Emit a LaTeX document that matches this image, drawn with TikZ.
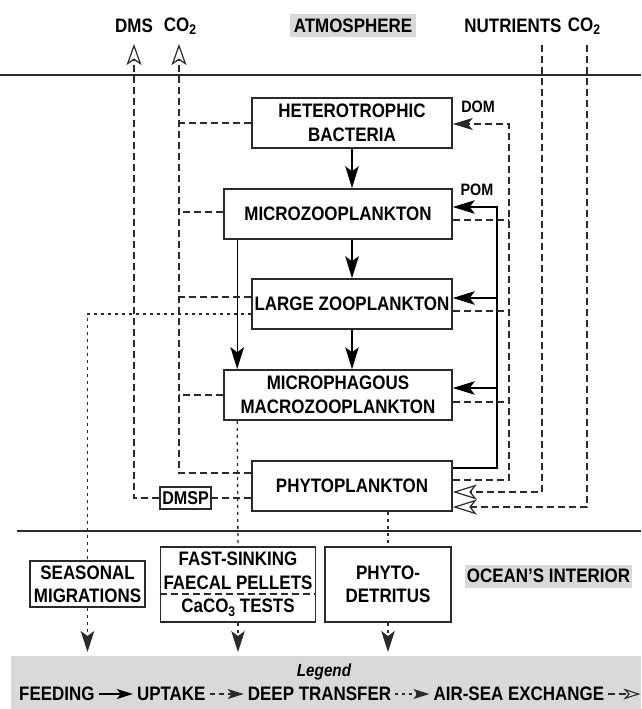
\documentclass[tikz,border=0pt]{standalone}
\usepackage{fontspec}
\setmainfont{Liberation Sans}[FakeStretch=0.87]
\usetikzlibrary{arrows.meta,positioning}
\newcommand\lowsub[1]{\raisebox{-0.35ex}{\fontsize{14}{14}\selectfont #1}}
\definecolor{lbl}{HTML}{D9D9D9}
\definecolor{ln}{HTML}{2A2A2A}
\begin{document}
\begin{tikzpicture}[x=1pt,y=-1pt,
  every node/.style={font=\bfseries\fontsize{19.5}{24}\selectfont, inner sep=0pt, align=center},
  box/.style={draw=ln, line width=1.6pt, fill=white},
  tag/.style={fill=lbl, inner sep=0pt},
  small/.style={font=\bfseries\fontsize{16.5}{18}\selectfont},
  feed/.style={line width=1.4pt, draw=black},
  feedtip/.style={-{Stealth[length=22pt,width=13.5pt,inset=5pt]}},
  uptake/.style={line width=1.3pt, draw=ln, dash pattern=on 7pt off 4pt},
  uptip/.style={-{Stealth[length=20pt,width=12pt,inset=5pt]}},
  deep/.style={line width=1.3pt, draw=ln, dash pattern=on 3pt off 4pt},
  deeptip/.style={-{Stealth[length=21pt,width=13.5pt,inset=5pt]}},
  airtip/.style={-{Stealth[open,length=24pt,width=15pt,inset=6pt,line width=1.2pt]}},
  airtiptop/.style={-{Stealth[open,length=21pt,width=15pt,inset=5pt,line width=1.2pt]}},
]
\useasboundingbox (0,0) rectangle (641,709);

% surface and interior boundaries
\draw[line width=1.8pt, ln] (0,75) -- (641,75);
\draw[line width=1.8pt, ln] (17,531) -- (641,531);

% top labels
\node[tag, minimum width=126pt, minimum height=23pt] (atm) at (353,26) {ATMOSPHERE};
\node (dms) at (134,26) {DMS};
\node (co2a) at (180,26) {CO\lowsub{2}};
\node (nut) at (513,26) {NUTRIENTS};
\node (co2b) at (584,26) {CO\lowsub{2}};

% food web boxes
\node[box, minimum width=200pt, minimum height=50pt] (het) at (352,123) {HETEROTROPHIC\\BACTERIA};
\node[box, minimum width=228pt, minimum height=50pt] (micro) at (338,214) {MICROZOOPLANKTON};
\node[box, minimum width=200pt, minimum height=50pt] (large) at (352,304) {LARGE ZOOPLANKTON};
\node[box, minimum width=228pt, minimum height=50pt] (macro) at (338,395) {MICROPHAGOUS\\MACROZOOPLANKTON};
\node[box, minimum width=200pt, minimum height=50pt] (phyto) at (352,486) {PHYTOPLANKTON};
\node[box, line width=1.3pt, minimum width=51pt, minimum height=22pt, font=\bfseries\fontsize{18.5}{20}\selectfont] (dmsp) at (185.5,498) {DMSP};

\node[small] (dom) at (478,107) {DOM};
\node[small] (pom) at (477,190) {POM};

% interior boxes
\node[box, minimum width=115pt, minimum height=46pt, font=\bfseries\fontsize{19.5}{23}\selectfont] (seas) at (87.5,584) {SEASONAL\\MIGRATIONS};
\node[box, minimum width=155pt, minimum height=75pt, font=\bfseries\fontsize{19.5}{23.5}\selectfont] (fast) at (238,584.5) {FAST-SINKING\\FAECAL PELLETS\\CaCO\lowsub{3} TESTS};
\draw[uptake, line width=1.2pt] ([yshift=-9.5pt]fast.west) -- ([yshift=-9.5pt]fast.east);
\node[box, minimum width=126pt, minimum height=75pt, font=\bfseries\fontsize{19.5}{23.5}\selectfont] (detr) at (388,584.5) {PHYTO-\\DETRITUS};
\node[tag, minimum width=167pt, minimum height=23pt] (ocean) at (548.5,576) {OCEAN’S INTERIOR};

% feeding
\draw[feed,feedtip] (het.south) -- (het.south |- micro.north);
\draw[feed,feedtip] (micro.south -| large.north) -- (large.north);
\draw[feed,feedtip] (large.south) -- (large.south |- macro.north);
\draw[feed,feedtip] ([xshift=14pt]micro.south west) -- ([xshift=14pt]macro.north west);
\coordinate (pomx) at (497,207);
\draw[feed,feedtip] ([yshift=18pt]phyto.east) -| (pomx) -- (pomx -| micro.east);
\coordinate (pl) at ([yshift=6pt]large.east);
\draw[feed,feedtip] (pl -| pomx) -- (pl);
\coordinate (pm) at ([yshift=7pt]macro.east);
\draw[feed,feedtip] (pm -| pomx) -- (pm);

% uptake / release (DOM)
\coordinate (domx) at (509,124);
\draw[uptake,uptip] ([yshift=6pt]phyto.east) -| (domx) -- (domx -| het.east);
\coordinate (dmi) at ([yshift=-6pt]micro.east);
\draw[uptake] (dmi) -- (dmi -| domx);
\coordinate (dla) at ([yshift=-7pt]large.east);
\draw[uptake] (dla) -- (dla -| domx);
\coordinate (dma) at ([yshift=-7pt]macro.east);
\draw[uptake] (dma) -- (dma -| domx);

% CO2 to atmosphere (left)
\coordinate (co2tip) at (179,44);
\draw[uptake,airtiptop] ([yshift=13pt]phyto.west) -| (co2tip);
\draw[uptake] (het.west) -- (het.west -| co2tip);
\coordinate (cmi) at ([yshift=2pt]micro.west);
\draw[uptake] (cmi) -- (cmi -| co2tip);
\coordinate (cla) at ([yshift=7pt]large.west);
\draw[uptake] (cla) -- (cla -| co2tip);
\draw[uptake] (macro.west) -- (macro.west -| co2tip);

% DMS
\coordinate (dmstip) at (134,44);
\draw[uptake] ([yshift=-12pt]phyto.west) -- (dmsp.east);
\draw[uptake,airtiptop] (dmsp.west) -| (dmstip);

% nutrients and CO2 uptake (right)
\coordinate (nuttop) at (542,45);
\draw[uptake,airtip] (nuttop) |- ([yshift=-6pt]phyto.east);
\coordinate (co2top) at (587,45);
\draw[uptake,airtip] (co2top) |- ([yshift=-21pt]phyto.east);

% deep transfer
\coordinate (deepend) at (0,652);
\draw[deep] ([yshift=-10pt]large.west) -| (seas.north);
\draw[deep,deeptip] (seas.south) -- (seas.south |- deepend);
\draw[deep] ([xshift=14pt]macro.south west) -- (fast.north);
\draw[deep,deeptip] (fast.south) -- (fast.south |- deepend);
\draw[deep] ([xshift=36pt]phyto.south) -- (detr.north);
\draw[deep,deeptip] (detr.south) -- (detr.south |- deepend);

% legend
\node[fill=lbl, minimum width=630pt, minimum height=53pt, anchor=north west] (legend) at (11,656) {};
\node[font=\bfseries\itshape\fontsize{17.5}{20}\selectfont] (legt) at (324,672) {Legend};
\begin{scope}[every node/.style={font=\bfseries\fontsize{19.5}{20}\selectfont, inner sep=0pt}]
\node[anchor=west] (lf) at (19,694) {FEEDING};
\node[right=42pt of lf] (lu) {UPTAKE};
\node[right=42pt of lu] (ld) {DEEP TRANSFER};
\node[right=42pt of ld] (la) {AIR-SEA EXCHANGE};
\coordinate[right=36pt of la] (laend);
\end{scope}
\draw[feed, -{Stealth[length=16pt,width=10pt,inset=4pt]}] ([xshift=4pt]lf.east) -- ([xshift=-4pt]lu.west);
\draw[uptake, dash pattern=on 5pt off 4pt, -{Stealth[length=16pt,width=10pt,inset=4pt]}] ([xshift=4pt]lu.east) -- ([xshift=-4pt]ld.west);
\draw[deep, -{Stealth[length=16pt,width=10pt,inset=4pt]}] ([xshift=4pt]ld.east) -- ([xshift=-4pt]la.west);
\draw[uptake, -{Stealth[open,length=17pt,width=11pt,inset=5pt,line width=1.1pt]}] ([xshift=4pt]la.east) -- (laend);
\end{tikzpicture}
\end{document}
